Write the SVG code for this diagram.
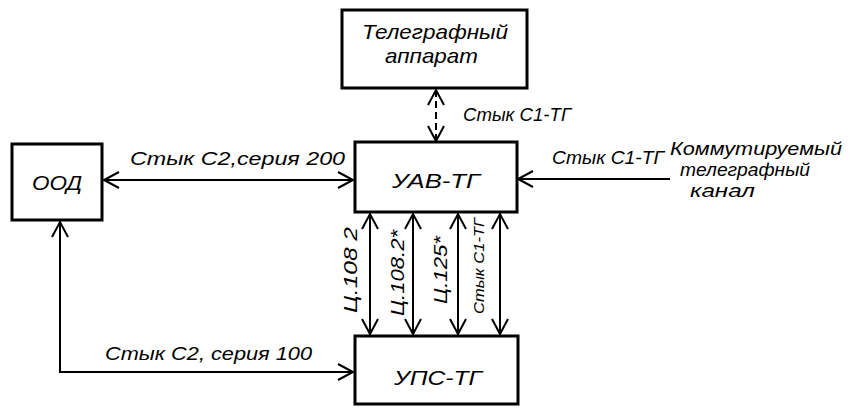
<svg xmlns="http://www.w3.org/2000/svg" width="850" height="408" viewBox="0 0 850 408">
<style>
.box{fill:#fff;stroke:#000;stroke-width:3}
.ln{fill:none;stroke:#000;stroke-width:2}
.t{font-family:"Liberation Sans","DejaVu Sans",sans-serif;font-style:italic;fill:#000}
.bt{font-size:21px}
.lt{font-size:18px}
</style>
<defs>
<marker id="a" markerUnits="userSpaceOnUse" markerWidth="20" markerHeight="20" refX="16" refY="9" orient="auto-start-reverse">
<path d="M1,1 L16,9 L1,17" fill="none" stroke="#000" stroke-width="2"/>
</marker>
</defs>
<g id="connectors">
<line class="ln" x1="436" y1="90" x2="436" y2="141" stroke-dasharray="7 4" marker-start="url(#a)" marker-end="url(#a)"/>
<line class="ln" x1="104" y1="180" x2="353" y2="180" marker-start="url(#a)" marker-end="url(#a)"/>
<polyline class="ln" points="60,222 60,372 353,372" marker-start="url(#a)" marker-end="url(#a)"/>
<line class="ln" x1="670" y1="179" x2="518" y2="179" marker-end="url(#a)"/>
<line class="ln" x1="370" y1="214" x2="370" y2="334" marker-start="url(#a)" marker-end="url(#a)"/>
<line class="ln" x1="413" y1="214" x2="413" y2="334" marker-start="url(#a)" marker-end="url(#a)"/>
<line class="ln" x1="458" y1="214" x2="458" y2="334" marker-start="url(#a)" marker-end="url(#a)"/>
<line class="ln" x1="500" y1="214" x2="500" y2="334" marker-start="url(#a)" marker-end="url(#a)"/>
<text class="t lt" x="130" y="165" textLength="215" lengthAdjust="spacingAndGlyphs">Стык С2,серия 200</text>
<text class="t lt" x="105" y="360" textLength="207" lengthAdjust="spacingAndGlyphs">Стык С2, серия 100</text>
<text class="t lt" x="463" y="121" textLength="108" lengthAdjust="spacingAndGlyphs">Стык С1-ТГ</text>
<text class="t lt" x="552" y="164" textLength="112" lengthAdjust="spacingAndGlyphs">Стык С1-ТГ</text>
<text class="t lt" x="670" y="155" textLength="172" lengthAdjust="spacingAndGlyphs">Коммутируемый</text>
<text class="t lt" x="680" y="176" textLength="130" lengthAdjust="spacingAndGlyphs">телеграфный</text>
<text class="t lt" x="690" y="197" textLength="65" lengthAdjust="spacingAndGlyphs">канал</text>
<text class="t lt" transform="translate(357,270) rotate(-90)" text-anchor="middle" textLength="86" lengthAdjust="spacingAndGlyphs">Ц.108 2</text>
<text class="t lt" transform="translate(404,273) rotate(-90)" text-anchor="middle" textLength="86" lengthAdjust="spacingAndGlyphs">Ц.108.2*</text>
<text class="t lt" transform="translate(447,270) rotate(-90)" text-anchor="middle" textLength="68" lengthAdjust="spacingAndGlyphs">Ц.125*</text>
<text class="t" style="font-size:15px" transform="translate(484,266) rotate(-90)" text-anchor="middle" textLength="96" lengthAdjust="spacingAndGlyphs">Стык С1-ТГ</text>
</g>
<g id="telegraph">
<rect class="box" x="342" y="10" width="185" height="78"/>
<text class="t bt" x="362" y="39" textLength="146" lengthAdjust="spacingAndGlyphs">Телеграфный</text>
<text class="t bt" x="385" y="63" textLength="93" lengthAdjust="spacingAndGlyphs">аппарат</text>
</g>
<g id="ood">
<rect class="box" x="12" y="144" width="90" height="76"/>
<text class="t bt" x="57" y="190" text-anchor="middle" textLength="50" lengthAdjust="spacingAndGlyphs">ООД</text>
</g>
<g id="uav">
<rect class="box" x="355" y="142" width="162" height="70"/>
<text class="t bt" x="436" y="188" text-anchor="middle" textLength="88" lengthAdjust="spacingAndGlyphs">УАВ-ТГ</text>
</g>
<g id="ups">
<rect class="box" x="355" y="336" width="163" height="68"/>
<text class="t bt" x="438" y="385" text-anchor="middle" textLength="88" lengthAdjust="spacingAndGlyphs">УПС-ТГ</text>
</g>
</svg>
